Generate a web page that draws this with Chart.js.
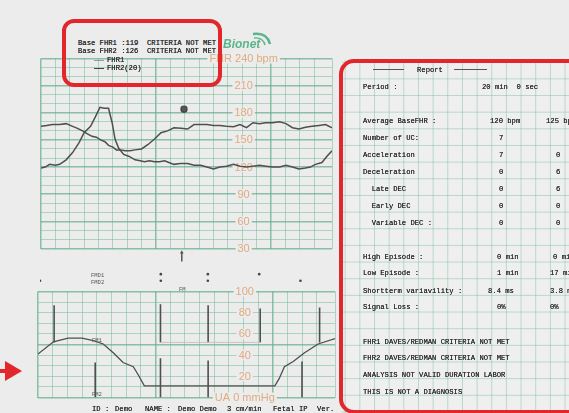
<!DOCTYPE html>
<html>
<head>
<meta charset="utf-8">
<script src="https://cdn.jsdelivr.net/npm/chart.js@4/dist/chart.umd.min.js"></script>
<style>
  html, body { margin: 0; padding: 0; }
  body { width: 569px; height: 413px; background: #ebeceb; position: relative; overflow: hidden;
         font-family: "Liberation Mono", "DejaVu Sans Mono", monospace; color: #303030; }
  .abs { position: absolute; white-space: pre; }
  .mono { font-size: 7.2px; line-height: 10px; text-shadow: 0 0 0.4px #303030; }
  canvas { position: absolute; }
  #panel { position: absolute; left: 342px; top: 60px; width: 227px; height: 353px;
           background-color: #eeefee;
           background-image:
             linear-gradient(to right, rgba(110,185,150,0.42) 1px, transparent 1px),
             linear-gradient(to bottom, rgba(110,185,150,0.42) 1px, transparent 1px);
           background-size: 14.66px 16.67px;
           background-position: 2.7px 1.7px; }
  .box { position: absolute; border: 4.5px solid #e2262b; box-sizing: border-box; }
</style>
</head>
<body>

<div id="panel"></div>

<canvas id="fhr" width="301" height="207" style="left:36px;top:50px"></canvas>
<canvas id="marcas" width="301" height="44" style="left:36px;top:246px"></canvas>
<canvas id="ua" width="301" height="160" style="left:36px;top:244px"></canvas>

<!-- header -->
<div class="abs mono" style="left:78px;top:38px">Base FHR1 :119  CRITERIA NOT MET</div>
<div class="abs mono" style="left:78px;top:46px">Base FHR2 :126  CRITERIA NOT MET</div>
<div class="abs" style="left:94px;top:60px;width:10px;border-top:1px solid #9a9a9a"></div>
<div class="abs mono" style="left:107px;top:55px">FHR1</div>
<div class="abs" style="left:94px;top:68px;width:10px;border-top:1px solid #444"></div>
<div class="abs mono" style="left:107px;top:63px">FHR2(20)</div>
<div class="abs" style="left:223px;top:37px;font:italic bold 12px 'Liberation Sans',Arial,sans-serif;color:#5bb58c">Bionet</div>
<svg class="abs" style="left:251px;top:31px" width="26" height="20">
  <path d="M2 3 Q16 1 19 13" stroke="#5bb58c" stroke-width="2.5" fill="none"/>
  <path d="M3 7 Q12 6 14 14" stroke="#5bb58c" stroke-width="1.4" fill="none"/>
</svg>

<!-- marks between charts -->
<div class="abs" style="left:91px;top:272px;font-size:5.5px;line-height:7px;color:#555">FMD1<br>FMD2</div>
<div class="abs" style="left:179px;top:287px;font-size:5.5px;line-height:6px;color:#555">FM</div>
<div class="abs" style="left:92px;top:337px;font-size:5.5px;color:#555">FM1</div>
<div class="abs" style="left:92px;top:391px;font-size:5.5px;color:#555">FM2</div>

<!-- footer -->
<div class="abs mono" style="left:92px;top:404px">ID :</div>
<div class="abs mono" style="left:115px;top:404px">Demo</div>
<div class="abs mono" style="left:145px;top:404px">NAME :</div>
<div class="abs mono" style="left:178px;top:404px">Demo Demo</div>
<div class="abs mono" style="left:227px;top:404px">3 cm/min</div>
<div class="abs mono" style="left:273px;top:404px">Fetal IP</div>
<div class="abs mono" style="left:317px;top:404px">Ver.</div>

<!-- report panel -->
<div class="abs" style="left:373px;top:69px;width:31px;border-top:1px solid #555"></div>
<div class="abs mono" style="left:417px;top:65px">Report</div>
<div class="abs" style="left:454px;top:69px;width:33px;border-top:1px solid #555"></div>
<div id="report"></div>

<!-- annotations -->
<div class="box" style="left:62px;top:19px;width:160px;height:68px;border-radius:12px"></div>
<div class="box" style="left:339px;top:59px;width:250px;height:355px;border-radius:15px"></div>
<svg class="abs" style="left:0;top:358px" width="24" height="26">
  <rect x="0" y="11" width="7" height="4" fill="#e2262b"/>
  <polygon points="5,3 22,13 5,23" fill="#e2262b"/>
</svg>

<script>
// ===== DADOS DO TRAÇADO (tempo em segundos, 20 s por quadrado) =====
const fhr1Time = [0, 6, 12, 20, 26, 35, 44, 53, 60, 69, 76, 82, 88, 94, 99, 103, 108, 115, 122, 131, 138, 144, 151, 158, 165, 172, 178, 185, 194, 204, 213, 222, 231, 240, 249, 258, 268, 277, 286, 295, 304, 313, 322, 332, 341, 350, 359, 368, 375, 382, 391, 398, 405];
const fhr1Bpm  = [119, 120, 123, 122, 123, 128, 136, 147, 158, 165, 176, 186, 185, 185, 169, 151, 141, 134, 132, 128, 127, 126, 127, 126, 126, 127, 125, 123, 124, 124, 122, 122, 120, 118, 120, 121, 123, 121, 120, 121, 122, 121, 120, 120, 122, 120, 118, 119, 120, 123, 125, 132, 138];

const fhr2Time = [0, 8, 16, 26, 35, 44, 50, 58, 64, 71, 77, 83, 89, 94, 100, 105, 111, 117, 124, 131, 140, 149, 158, 167, 176, 185, 195, 204, 213, 222, 231, 240, 249, 258, 268, 277, 286, 295, 304, 313, 322, 332, 341, 350, 359, 368, 377, 387, 396, 405];
const fhr2Bpm  = [165, 166, 167, 167, 168, 165, 163, 160, 157, 154, 153, 150, 148, 144, 142, 139, 139, 138, 138, 139, 140, 145, 151, 158, 160, 163.5, 163, 162, 167, 167, 167, 166, 166, 165, 164.5, 167, 163.5, 169, 168, 169, 169, 170, 168, 163.5, 162, 164, 165, 166, 167, 163.5];

const uaTime     = [0, 21, 41, 60, 74, 89, 103, 116, 130, 137, 145, 323, 329, 336, 348, 363, 382, 405];
const uaPressure = [41, 52.6, 56, 56, 54, 50.5, 42, 33, 29, 21, 11, 11, 18, 29, 34, 42, 50.5, 55.5];

// movimentos fetais (traço FM1 com base em 52, FM2 com base em 0)
const fm1Time = [22, 167, 232, 303, 384];
const fm1Top  = [87, 88, 87, 84, 85];
const fm1Base = 52;
const fm2Time = [78, 167, 232, 360];
const fm2Top  = [33, 37, 35, 34];

// faixa de marcas entre os gráficos (altura em px acima da grade de UA)
const fmd1Marks = [167, 232, 303];
const fmd2Marks = [0, 167, 232, 360];
const fmd1Row = 14.5;
const fmd2Row = 6.5;
const arrowTime = 196;
const arrowSpan = [30, 41];

const eventTime = [199];
const eventBpm  = [184];

const fhrTicks  = [240, 210, 180, 150, 120, 90, 60, 30];
const fhrLabels = ['FHR 240 bpm', '210', '180', '150', '120', '90', '60', '30'];
const uaTicks   = [100, 80, 60, 40, 20, 0];
const uaLabels  = ['100', '80', '60', '40', '20', 'UA 0 mmHg'];

const report = [
  ['Period :', 86.7, [['20 min  0 sec', 482]]],
  ['Average BaseFHR :', 120.7, [['120 bpm', 490], ['125 bpm', 546]]],
  ['Number of UC:', 137.7, [['7', 499]]],
  ['Acceleration', 155.3, [['7', 499], ['0', 556]]],
  ['Deceleration', 171.7, [['0', 499], ['6', 556]]],
  ['  Late DEC', 188.7, [['0', 499], ['6', 556]]],
  ['  Early DEC', 205.7, [['0', 499], ['0', 556]]],
  ['  Variable DEC :', 222.7, [['0', 499], ['0', 556]]],
  ['High Episode :', 256.7, [['0 min', 497], ['0 min', 553]]],
  ['Low Episode :', 273.3, [['1 min', 497], ['17 min', 550]]],
  ['Shortterm variavility :', 290.7, [['8.4 ms', 488], ['3.8 ms', 550]]],
  ['Signal Loss :', 307.3, [['0%', 497], ['0%', 550]]],
  ['FHR1 DAVES/REDMAN CRITERIA NOT MET', 341.7, []],
  ['FHR2 DAVES/REDMAN CRITERIA NOT MET', 358.3, []],
  ['ANALYSIS NOT VALID DURATION LABOR', 375, []],
  ['THIS IS NOT A DIAGNOSIS', 392.3, []]
];

// ===== ESTILOS =====
const GRADE = 'rgba(110,185,150,0.5)';
const GRADE_FORTE = 'rgba(95,172,138,0.7)';
const PAPEL = '#ebeceb';
const ROTULO = '#dfab80';
const TRACO = '#4f4f4f';
const X_MAX = 405;
const X_ROTULO = 282;

// texto do relatório
const reportEl = document.getElementById('report');
report.forEach(([label, y, valores]) => {
  const add = (txt, x) => {
    const d = document.createElement('div');
    d.className = 'abs mono';
    d.style.left = x + 'px';
    d.style.top = (y - 5) + 'px';
    d.textContent = txt;
    reportEl.appendChild(d);
  };
  add(label, 363);
  valores.forEach(([txt, x]) => add(txt, x));
});

const pontos = (xs, ys) => xs.map((x, i) => ({ x, y: ys[i] }));
const hastes = (xs, base, tops) => xs.flatMap((x, i) => [{ x, y: base }, { x, y: tops[i] }, { x, y: null }]);

// rótulos do eixo impressos dentro da grade
const rotulosEixo = {
  id: 'rotulosEixo',
  beforeDatasetsDraw(chart, args, opts) {
    const { ctx, scales: { x, y } } = chart;
    ctx.save();
    ctx.font = '11px "Liberation Sans", Arial, sans-serif';
    ctx.textAlign = 'center';
    ctx.textBaseline = 'middle';
    opts.ticks.forEach((v, i) => {
      const px = x.getPixelForValue(X_ROTULO);
      const py = y.getPixelForValue(v);
      const txt = opts.labels[i];
      const w = ctx.measureText(txt).width;
      ctx.fillStyle = PAPEL;
      ctx.fillRect(px - w / 2 - 2, py - 5, w + 4, 10);
      ctx.fillStyle = ROTULO;
      ctx.fillText(txt, px, py + 0.5);
    });
    ctx.restore();
  }
};

function eixoX(grade = true) {
  return {
    type: 'linear', min: 0, max: X_MAX,
    ticks: { display: false, stepSize: 20 },
    border: { display: false },
    grid: {
      display: grade,
      drawTicks: false,
      color: c => (c.tick.value % 160 === 0 ? GRADE_FORTE : GRADE),
      lineWidth: c => (c.tick.value % 160 === 0 ? 1.5 : 1)
    }
  };
}

function eixoY(min, max, forte) {
  return {
    min, max,
    ticks: { display: false, stepSize: 10 },
    border: { display: false },
    grid: {
      drawTicks: false,
      color: c => (c.tick.value % forte === 0 ? GRADE_FORTE : GRADE),
      lineWidth: c => (c.tick.value % forte === 0 ? 1.5 : 1)
    }
  };
}

const base = {
  responsive: false,
  animation: false,
  devicePixelRatio: 1,
  plugins: { legend: { display: false }, tooltip: { enabled: false } },
  elements: { point: { radius: 0 }, line: { tension: 0 } }
};

new Chart(document.getElementById('fhr'), {
  type: 'line',
  data: {
    datasets: [
      { data: pontos(fhr1Time, fhr1Bpm), borderColor: TRACO, borderWidth: 1.5 },
      { data: pontos(fhr2Time, fhr2Bpm), borderColor: TRACO, borderWidth: 1.5 },
      { data: pontos(eventTime, eventBpm), showLine: false, pointRadius: 3.5, pointStyle: 'rectRounded',
        pointBackgroundColor: '#555', pointBorderColor: '#333' }
    ]
  },
  options: {
    ...base,
    layout: { padding: { left: 2, right: 2, top: 8.5, bottom: 8.5 } },
    scales: { x: eixoX(), y: eixoY(30, 240, 30) },
    plugins: { ...base.plugins, rotulosEixo: { ticks: fhrTicks, labels: fhrLabels } }
  },
  plugins: [rotulosEixo]
});

new Chart(document.getElementById('marcas'), {
  type: 'line',
  data: {
    datasets: [
      { data: fmd1Marks.map(x => ({ x, y: fmd1Row })), showLine: false, pointRadius: 1.3,
        pointBackgroundColor: '#444', pointBorderWidth: 0 },
      { data: fmd2Marks.map(x => ({ x, y: fmd2Row })), showLine: false, pointRadius: 1.3,
        pointBackgroundColor: '#444', pointBorderWidth: 0 },
      { data: arrowSpan.map(y => ({ x: arrowTime, y })), borderColor: '#555', borderWidth: 1.5,
        pointRadius: [0, 2.2], pointStyle: 'triangle', pointBackgroundColor: '#555', pointBorderWidth: 0 }
    ]
  },
  options: {
    ...base,
    layout: { padding: { left: 2, right: 2, top: 0, bottom: 0 } },
    scales: {
      x: eixoX(false),
      y: { min: 0, max: 44, display: false }
    }
  }
});

new Chart(document.getElementById('ua'), {
  type: 'line',
  data: {
    datasets: [
      { data: pontos(uaTime, uaPressure), borderColor: TRACO, borderWidth: 1.3 },
      { data: [{ x: fm1Time[1], y: fm1Base }, { x: fm1Time[3], y: fm1Base }], borderColor: '#c4c4c4', borderWidth: 1 },
      { data: hastes(fm1Time, fm1Base, fm1Top), borderColor: TRACO, borderWidth: 1.6, spanGaps: false },
      { data: hastes(fm2Time, 0, fm2Top), borderColor: TRACO, borderWidth: 1.6, spanGaps: false }
    ]
  },
  options: {
    ...base,
    layout: { padding: { left: 2, right: 2, top: 47.5, bottom: 6.5 } },
    scales: { x: eixoX(), y: eixoY(0, 100, 50) },
    plugins: { ...base.plugins, rotulosEixo: { ticks: uaTicks, labels: uaLabels } }
  },
  plugins: [rotulosEixo]
});
</script>
</body>
</html>
